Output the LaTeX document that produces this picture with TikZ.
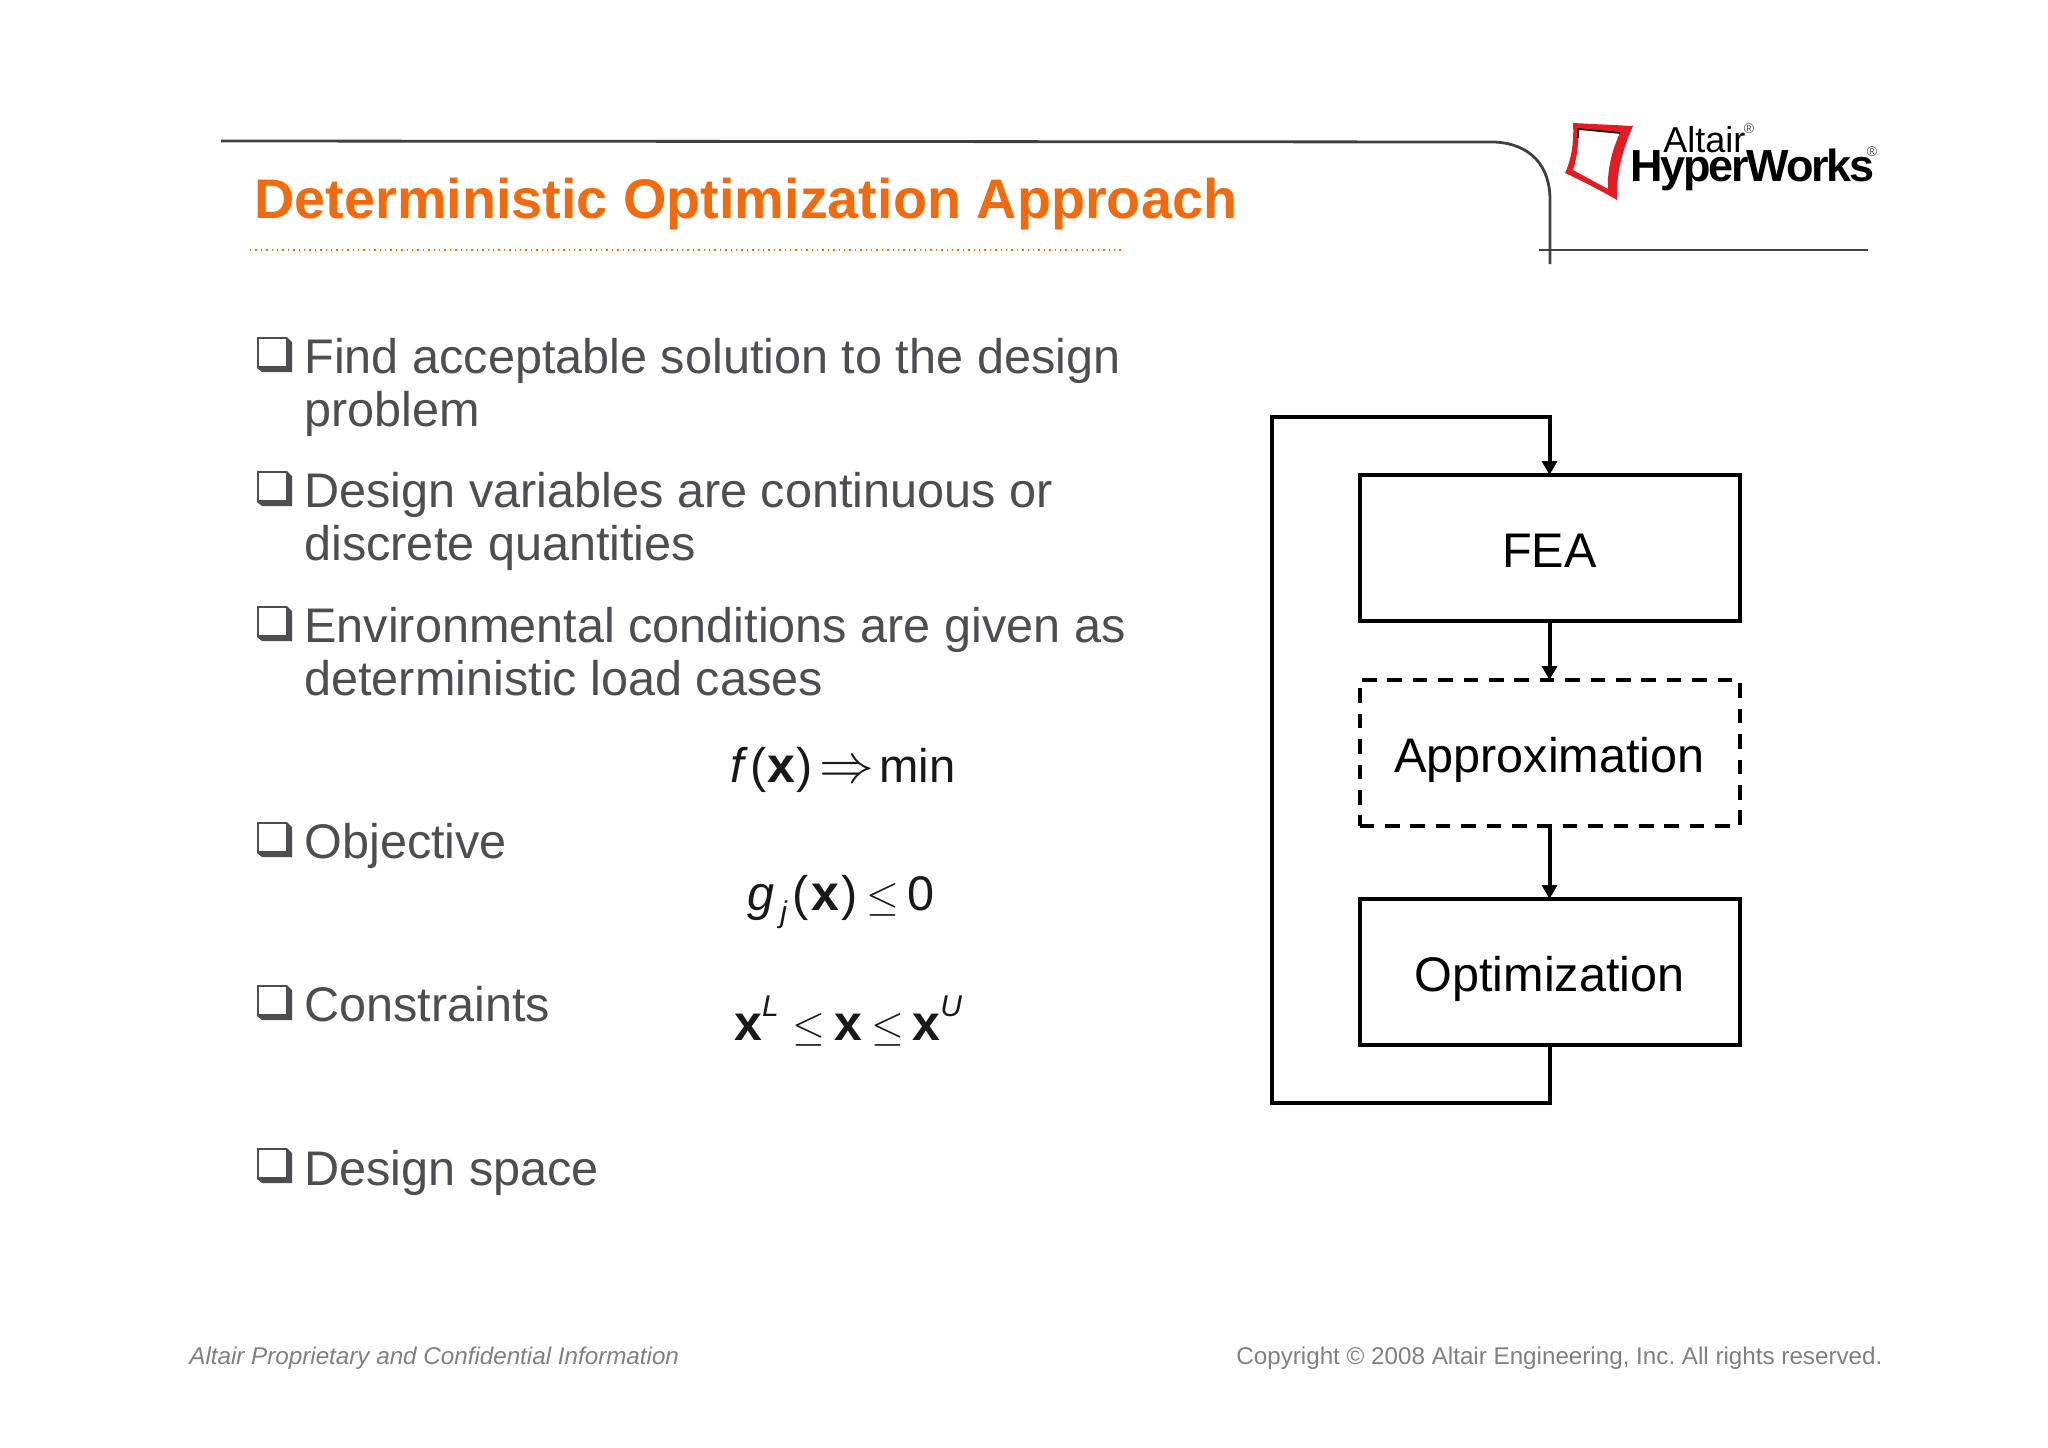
\documentclass[tikz,border=0pt]{standalone}
\usepackage{fontspec}
\setmainfont{Liberation Sans}
\newfontfamily\logofont[LetterSpace=-5]{Liberation Sans}
\usetikzlibrary{arrows.meta,positioning}
\definecolor{slidegray}{HTML}{4D4D52}
\definecolor{slideorange}{HTML}{F26A0C}
\definecolor{footgray}{HTML}{808080}
\definecolor{logored}{HTML}{E31B23}
\newcommand{\bodysize}{\fontsize{24.3}{26.5}\selectfont}
\newcommand{\bx}{\textbf{\fontsize{25}{25}\selectfont x}}
\newcommand{\lessrel}{\scalebox{0.85}{$\leq$}}
\newcommand{\smalltag}[2]{\raisebox{#1}{\fontsize{15}{15}\selectfont\textit{#2}}}
\frenchspacing
\tikzset{
  item/.style = {anchor = base west, inner sep = 0pt, align = left,
    font = \bodysize, text = slidegray},
  formula/.style = {anchor = base west, inner sep = 0pt,
    font = \bodysize, text = black!90},
  stage/.style = {draw, rectangle, line width = 2pt, outer sep = 0pt,
    minimum width = 190pt, minimum height = 73pt, font = \bodysize,
    text height = 24pt, text depth = 5pt},
  flow/.style = {line width = 2pt,
    -{Triangle[width = 7.5pt, length = 7pt]}},
  rule/.style = {draw = black!75, line width = 1.4pt},
  foot/.style = {anchor = base west, inner sep = 0pt,
    font = \fontsize{12.1}{14}\selectfont, text = footgray},
  chkbox/.pic = {
    \fill [slidegray] (0,0) -- (30,0) -- (35,5) -- (35,35) -- (5,35)
      -- (0,31) -- cycle;
    \fill [white] (2,2) -- (29,2) -- (29,28.5) -- (2,28.5) -- cycle;
  },
}
\begin{document}
\begin{tikzpicture}[x = 0.5pt, y = -0.5pt]
  \useasboundingbox (0,0) rectangle (2048,1447);

  % header
  \draw [rule] (221,141) -- (1495,142)
    .. controls (1530,144) and (1550,165) .. (1550,200) -- (1550,264);
  \draw [rule] (1539,250) -- (1868,250);
  \node [anchor = base west, inner sep = 0pt, text = slideorange,
    font = \fontsize{27.9}{30}\selectfont\bfseries]
    (Title) at (254,218) {Deterministic Optimization Approach};
  \draw [slideorange, dotted, line width = 0.7pt] (250,250) -- (1124,250);

  % logo
  \fill [logored, even odd rule] (1573,123) -- (1633,126)
    .. controls (1622,150) and (1616,175) .. (1617,200)
    .. controls (1600,190) and (1580,180) .. (1565,173)
    .. controls (1572,158) and (1574,140) .. (1573,123) -- cycle
    (1578,129) -- (1620,133)
    .. controls (1612,150) and (1607,170) .. (1608,189)
    .. controls (1595,182) and (1582,175) .. (1573,170)
    .. controls (1577,158) and (1579,142) .. (1578,129) -- cycle;
  \draw [black, line width = 0.8pt] (1578,138) -- (1578,129) -- (1620,133);
  \node [anchor = base west, inner sep = 0pt, font = \fontsize{18}{20}\selectfont]
    (Altair) at (1663,152) {Altair};
  \node [anchor = base west, inner sep = 0pt,
    font = \fontsize{22.5}{24}\selectfont\logofont\bfseries]
    (Hyper) at (1630,181) {HyperWorks};
  \node [inner sep = 0pt, font = \fontsize{7}{8}\selectfont, text = black!70]
    (AltairReg) at (1749,129) {®};
  \node [inner sep = 0pt, font = \fontsize{7}{8}\selectfont, text = black!70]
    (HyperReg) at (1872,152) {®};

  % bullets
  \foreach \y in {337,471,606,822,985,1148}
    \pic at (257,\y) {chkbox};
  \node [item] (Find) at (304,426) {Find acceptable solution to the design\\problem};
  \node [item] (Variables) at (304,560) {Design variables are continuous or\\discrete quantities};
  \node [item] (Loads) at (304,695) {Environmental conditions are given as\\deterministic load cases};
  \node [item] (Objective) at (304,858) {Objective};
  \node [item] (Constraints) at (304,1021) {Constraints};
  \node [item] (Space) at (304,1185) {Design space};

  % formulas
  \node [formula] (MinF) at (730,782)
    {\textit{f}\hspace{1pt}(\hspace{0.7pt}\bx\hspace{0.7pt})\hspace{3pt}\scalebox{1.1}{$\Rightarrow$}\hspace{2.7pt}{\fontsize{23.6}{26}\selectfont min}};
  \node [formula] (ConG) at (747,910)
    {\textit{g}\hspace{3pt}\smalltag{-6pt}{j}\hspace{2.5pt}(\hspace{1.5pt}\bx\hspace{1pt})\hspace{4.5pt}\lessrel\hspace{4pt}0};
  \node [formula] (Bounds) at (734,1040)
    {\bx\smalltag{12pt}{L}\hspace{7pt}\lessrel\hspace{4.5pt}\bx\hspace{4.5pt}\lessrel\hspace{4pt}\bx\smalltag{12pt}{U}};

  % flow chart
  \node [stage] (FEA) at (1549.5,548) {FEA};
  \node [stage, dash pattern = on 7.3pt off 5.4pt, below = 29.5pt of FEA] (Approx) {Approximation};
  \node [stage, below = 36.5pt of Approx] (Opt) {Optimization};
  \coordinate (LoopTop) at (1272,417);
  \coordinate (LoopBottom) at (1272,1103);
  \draw [flow] (FEA) -- (Approx);
  \draw [flow] (Approx) -- (Opt);
  \draw [flow] (Opt.south) |- (LoopBottom) -- (LoopTop) -| (FEA.north);

  % footer
  \node [foot] (Prop) at (189,1364)
    {\textit{Altair Proprietary and Confidential Information}};
  \node [foot] (Copy) at (1236,1364)
    {Copyright © 2008 Altair Engineering, Inc. All rights reserved.};
\end{tikzpicture}
\end{document}
